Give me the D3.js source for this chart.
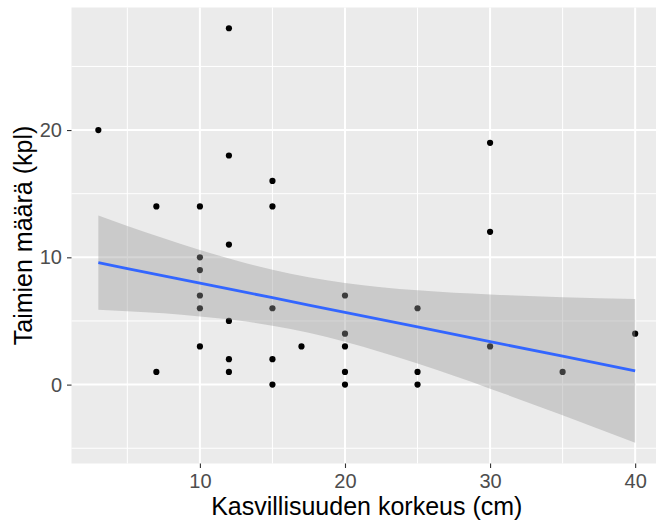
<!DOCTYPE html>
<html>
<head>
<meta charset="utf-8">
<script src="https://cdn.jsdelivr.net/npm/d3@7"></script>
<style>
body{margin:0;background:#fff;}
svg{display:block;font-family:"Liberation Sans",Arial,sans-serif;}
</style>
</head>
<body>
<div class="canvas"></div>
<script>
/* scatter with linear fit, taimet vs kasvillisuus */

// observations
var korkeus = [3, 7,7, 10,10,10,10,10,10, 12,12,12,12,12,12, 15,15,15,15,15, 17, 20,20,20,20,20, 25,25,25, 30,30,30, 35, 40];
var taimet  = [20, 14,1, 14,10,9,7,6,3, 28,18,11,5,2,1, 16,14,6,2,0, 3, 7,4,3,1,0, 6,1,0, 19,12,3, 1, 4];

// fitted line and 95% band
var fitX  = [3, 5, 7.5, 10, 12.5, 15, 17.5, 20, 25, 30, 35, 40];
var fitY  = [9.58, 9.12, 8.55, 7.97, 7.40, 6.83, 6.25, 5.68, 4.53, 3.38, 2.23, 1.08];
var fitLo = [5.88, 5.77, 5.60, 5.36, 5.05, 4.63, 4.07, 3.37, 1.65, -0.32, -2.41, -4.57];
var fitHi = [13.28, 12.47, 11.50, 10.58, 9.75, 9.03, 8.43, 7.99, 7.41, 7.08, 6.87, 6.73];

var xTicks = [10, 20, 30, 40], xMinor = [5, 15, 25, 35];
var yTicks = [0, 10, 20], yMinor = [-5, 5, 15, 25];

var W = 656, H = 525;
var panel = {l:71.5, r:662, t:7.5, b:463.5};

var svg = d3.select('.canvas')
    .append('svg')
    .attr('width', W)
    .attr('height', H);

// ggplot style 5% expansion
function expand(ext){
    var d = (ext[1] - ext[0]) * 0.05;
    return [ext[0] - d, ext[1] + d];
}

var x = d3.scaleLinear()
    .domain(expand(d3.extent(korkeus)))
    .range([panel.l, panel.r]);
var y = d3.scaleLinear()
    .domain(expand(d3.extent(taimet.concat(fitLo, fitHi))))
    .range([panel.b, panel.t]);

svg.append('rect')
    .attr('x', panel.l)
    .attr('y', panel.t)
    .attr('width', panel.r - panel.l)
    .attr('height', panel.b - panel.t)
    .style('fill', '#EBEBEB');

var grid = svg.append('g');
grid.selectAll('.vmin').data(xMinor).enter().append('line')
    .attr('x1', x).attr('x2', x)
    .attr('y1', panel.t).attr('y2', panel.b)
    .style('stroke', '#fff').style('stroke-width', 1);
grid.selectAll('.hmin').data(yMinor).enter().append('line')
    .attr('y1', y).attr('y2', y)
    .attr('x1', panel.l).attr('x2', panel.r)
    .style('stroke', '#fff').style('stroke-width', 1);
grid.selectAll('.vmaj').data(xTicks).enter().append('line')
    .attr('x1', x).attr('x2', x)
    .attr('y1', panel.t).attr('y2', panel.b)
    .style('stroke', '#fff').style('stroke-width', 2);
grid.selectAll('.hmaj').data(yTicks).enter().append('line')
    .attr('y1', y).attr('y2', y)
    .attr('x1', panel.l).attr('x2', panel.r)
    .style('stroke', '#fff').style('stroke-width', 2);

// points first, band drawn over them like geom_smooth does
svg.append('g').selectAll('circle')
    .data(korkeus)
    .enter()
    .append('circle')
    .attr('cx', function(d){return x(d)})
    .attr('cy', function(d,i){return y(taimet[i])})
    .attr('r', 3.1)
    .style('fill', '#000');

var band = d3.area()
    .x(function(d){return x(d)})
    .y0(function(d,i){return y(fitLo[i])})
    .y1(function(d,i){return y(fitHi[i])})
    .curve(d3.curveMonotoneX);
svg.append('path')
    .datum(fitX)
    .attr('d', band)
    .style('fill', '#999999')
    .style('fill-opacity', 0.4);

var line = d3.line()
    .x(function(d){return x(d)})
    .y(function(d,i){return y(fitY[i])});
svg.append('path')
    .datum(fitX)
    .attr('d', line)
    .style('fill', 'none')
    .style('stroke', '#3366FF')
    .style('stroke-width', 2.8);

// axes
var xAxis = d3.axisBottom(x).tickValues(xTicks).tickSize(4.5).tickPadding(5.5);
var yAxis = d3.axisLeft(y).tickValues(yTicks).tickSize(4.5).tickPadding(5);

var gx = svg.append('g')
    .attr('transform', 'translate(0,' + panel.b + ')')
    .call(xAxis);
var gy = svg.append('g')
    .attr('transform', 'translate(' + panel.l + ',0)')
    .call(yAxis);
[gx, gy].forEach(function(g){
    g.select('.domain').remove();
    g.selectAll('.tick line').style('stroke', '#333333').style('stroke-width', 1.1);
    g.selectAll('.tick text')
        .style('font-size', '20px')
        .style('fill', '#4D4D4D')
        .style('font-family', '"Liberation Sans",Arial,sans-serif');
});

svg.append('text')
    .attr('x', (panel.l + panel.r) / 2)
    .attr('y', 515)
    .attr('text-anchor', 'middle')
    .style('font-size', '25px')
    .style('fill', '#000')
    .text('Kasvillisuuden korkeus (cm)');

svg.append('text')
    .attr('transform', 'translate(32,' + ((panel.t + panel.b) / 2) + ') rotate(-90)')
    .attr('text-anchor', 'middle')
    .style('font-size', '25px')
    .style('fill', '#000')
    .text('Taimien määrä (kpl)');
</script>
</body>
</html>
